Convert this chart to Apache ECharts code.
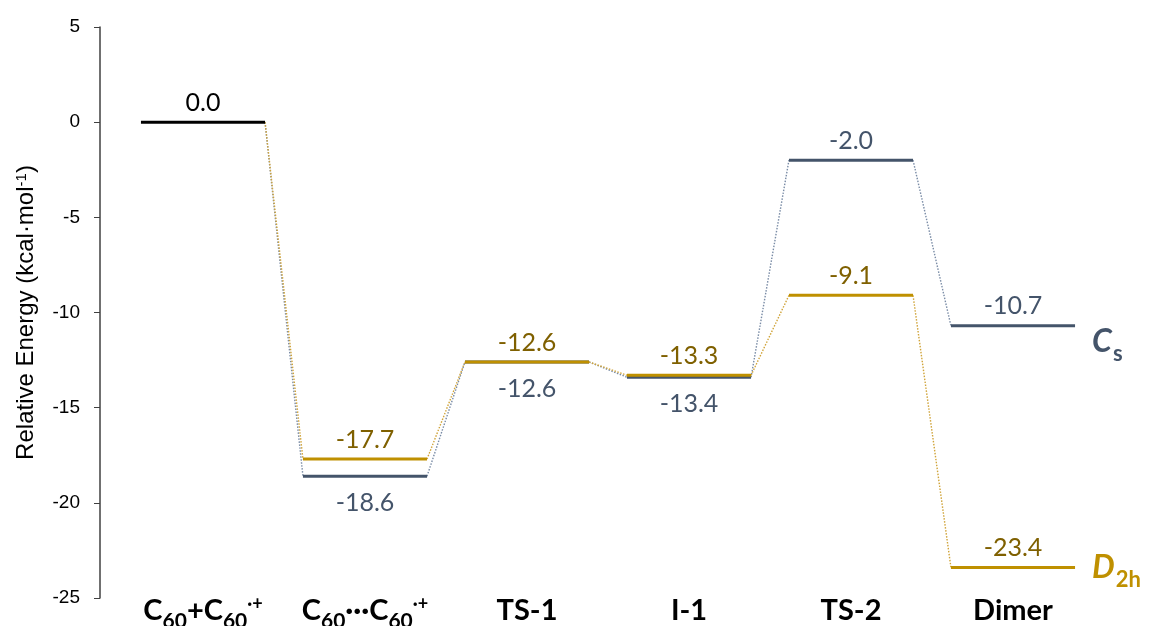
<!DOCTYPE html>
<html><head><meta charset="utf-8">
<script src="https://cdn.jsdelivr.net/npm/echarts@6/dist/echarts.min.js"></script>
<style>html,body{margin:0;padding:0;background:#fff}#c{width:1150px;height:626px}</style>
</head><body><div id="c"></div>
<script>
// ---- data ----
const categories = ['C60+C60·+', 'C60···C60·+', 'TS-1', 'I-1', 'TS-2', 'Dimer'];
const startEnergy = [0.0];                         // C60+C60·+ reference level
const csEnergy  = [-18.6, -12.6, -13.4, -2.0, -10.7];  // Cs path, categories 1..5
const d2hEnergy = [-17.7, -12.6, -13.3, -9.1, -23.4];  // D2h path, categories 1..5
const csLabelBelow = [true, true, true, false, false];
const yMin = -25, yMax = 5, yStep = 5;

// ---- styles ----
const FONT = 'Lato, "Open Sans", sans-serif';
const AX_FONT = '"Liberation Sans", Arial, sans-serif';
const goldBar = '#BF9000', goldText = '#7F6000', goldDot = '#D0A43A';
const grayBar = '#44546A', grayText = '#44546A', grayDot = '#7A8CA6';
const HALF = 0.383;

function labelFmt(v) {
  if (v === 'C60+C60·+') return '{b|C}{sub|60}{b|+C}{sub|60}{sup|·+}';
  if (v === 'C60···C60·+') return '{b|C}{sub|60}{b|···C}{sub|60}{sup|·+}';
  return '{b|' + v + '}';
}

function levelRender(barColor, textColor, belowArr, tag) {
  return function (params, api) {
    const idx = api.value(0), v = api.value(1);
    const c = api.coord([idx, v]);
    const hw = api.size([1, 0])[0] * HALF;
    const below = belowArr ? belowArr[params.dataIndex] : false;
    const children = [
      { type: 'line', shape: { x1: c[0] - hw, y1: c[1], x2: c[0] + hw, y2: c[1] },
        style: { stroke: barColor, lineWidth: 3 } },
      { type: 'text', x: c[0], y: below ? c[1] + 14 : c[1] - 7,
        style: { text: v.toFixed(1), fill: textColor, font: '25px ' + FONT,
                 align: 'center', verticalAlign: below ? 'top' : 'bottom' } }
    ];
    if (tag && params.dataIndex === params.dataInsideLength - 1) {
      children.push({ type: 'text', x: c[0] + hw + 17, y: c[1] + tag.dy,
        style: { rich: tag.rich, text: tag.text, fill: barColor, align: 'left', verticalAlign: 'middle' } });
    }
    return { type: 'group', children };
  };
}

function connRender(color) {
  return function (params, api) {
    const idx = api.value(0), from = api.value(1), to = api.value(2);
    const hw = api.size([1, 0])[0] * HALF;
    const a = api.coord([idx - 1, from]);
    const b = api.coord([idx, to]);
    return { type: 'line', shape: { x1: a[0] + hw, y1: a[1], x2: b[0] - hw, y2: b[1] },
      style: { stroke: color, lineWidth: 1.4, lineDash: [1.5, 1.5] } };
  };
}

function connData(vals) {
  const out = [];
  const all = [startEnergy[0]].concat(vals);
  for (let i = 1; i < all.length; i++) out.push([i, all[i - 1], all[i]]);
  return out;
}

function tagRich(color) {
  return {
    i: { fontFamily: FONT, fontWeight: 'bold', fontStyle: 'italic', fontSize: 32, color: color, lineHeight: 38, verticalAlign: 'bottom' },
    s: { fontFamily: FONT, fontWeight: 'bold', fontSize: 22, color: color, lineHeight: 38, verticalAlign: 'bottom', padding: [0, 0, -7, 1] }
  };
}

const chart = echarts.init(document.getElementById('c'));
chart.setOption({
  animation: false,
  grid: { left: 122, right: 56, top: 27, bottom: 28, containLabel: false, outerBoundsMode: 'none' },
  xAxis: {
    type: 'category', data: categories,
    axisLine: { show: false }, axisTick: { show: false }, splitLine: { show: false },
    axisLabel: {
      margin: -5, interval: 0, formatter: labelFmt, hideOverlap: false,
      rich: {
        b: { fontFamily: FONT, fontWeight: 'bold', fontSize: 29, color: '#000', lineHeight: 32, verticalAlign: 'bottom' },
        sub: { fontFamily: FONT, fontWeight: 'bold', fontSize: 21, color: '#000', lineHeight: 32, verticalAlign: 'bottom', padding: [0, 0, -7, 0] },
        sup: { fontFamily: FONT, fontWeight: 'bold', fontSize: 18, color: '#000', lineHeight: 32, verticalAlign: 'bottom', padding: [0, 0, 12, 0] }
      }
    }
  },
  yAxis: {
    type: 'value', min: yMin, max: yMax, interval: yStep, offset: 22,
    axisLine: { show: true, lineStyle: { color: '#404040', width: 1.5 } },
    axisTick: { show: true, length: 6, lineStyle: { color: '#404040' } },
    splitLine: { show: false },
    axisLabel: { margin: 20, color: '#000', fontSize: 19, fontFamily: AX_FONT },
    name: 'Relative Energy (kcal·mol{sup|-1})',
    nameLocation: 'middle', nameGap: 61, nameRotate: 90,
    nameTextStyle: { color: '#000', fontSize: 24, fontFamily: AX_FONT,
      rich: { sup: { fontSize: 15, fontFamily: AX_FONT, color: '#000', padding: [0, 0, 10, 0] } } }
  },
  series: [
    { type: 'custom', name: 'Cs conn', renderItem: connRender(grayDot), data: connData(csEnergy),
      encode: { x: 0, y: [1, 2] }, z: 1 },
    { type: 'custom', name: 'D2h conn', renderItem: connRender(goldDot), data: connData(d2hEnergy),
      encode: { x: 0, y: [1, 2] }, z: 2 },
    { type: 'custom', name: 'start', renderItem: levelRender('#000', '#000', null, null),
      data: startEnergy.map((v, i) => [i, v]), encode: { x: 0, y: 1 }, z: 5 },
    { type: 'custom', name: 'Cs', z: 3,
      renderItem: levelRender(grayBar, grayText, csLabelBelow, { text: '{i|C}{s|s}', dy: 13, rich: tagRich(grayBar) }),
      data: csEnergy.map((v, i) => [i + 1, v]), encode: { x: 0, y: 1 } },
    { type: 'custom', name: 'D2h', z: 4,
      renderItem: levelRender(goldBar, goldText, null, { text: '{i|D}{s|2h}', dy: -3, rich: tagRich(goldBar) }),
      data: d2hEnergy.map((v, i) => [i + 1, v]), encode: { x: 0, y: 1 } }
  ]
});
</script></body></html>
